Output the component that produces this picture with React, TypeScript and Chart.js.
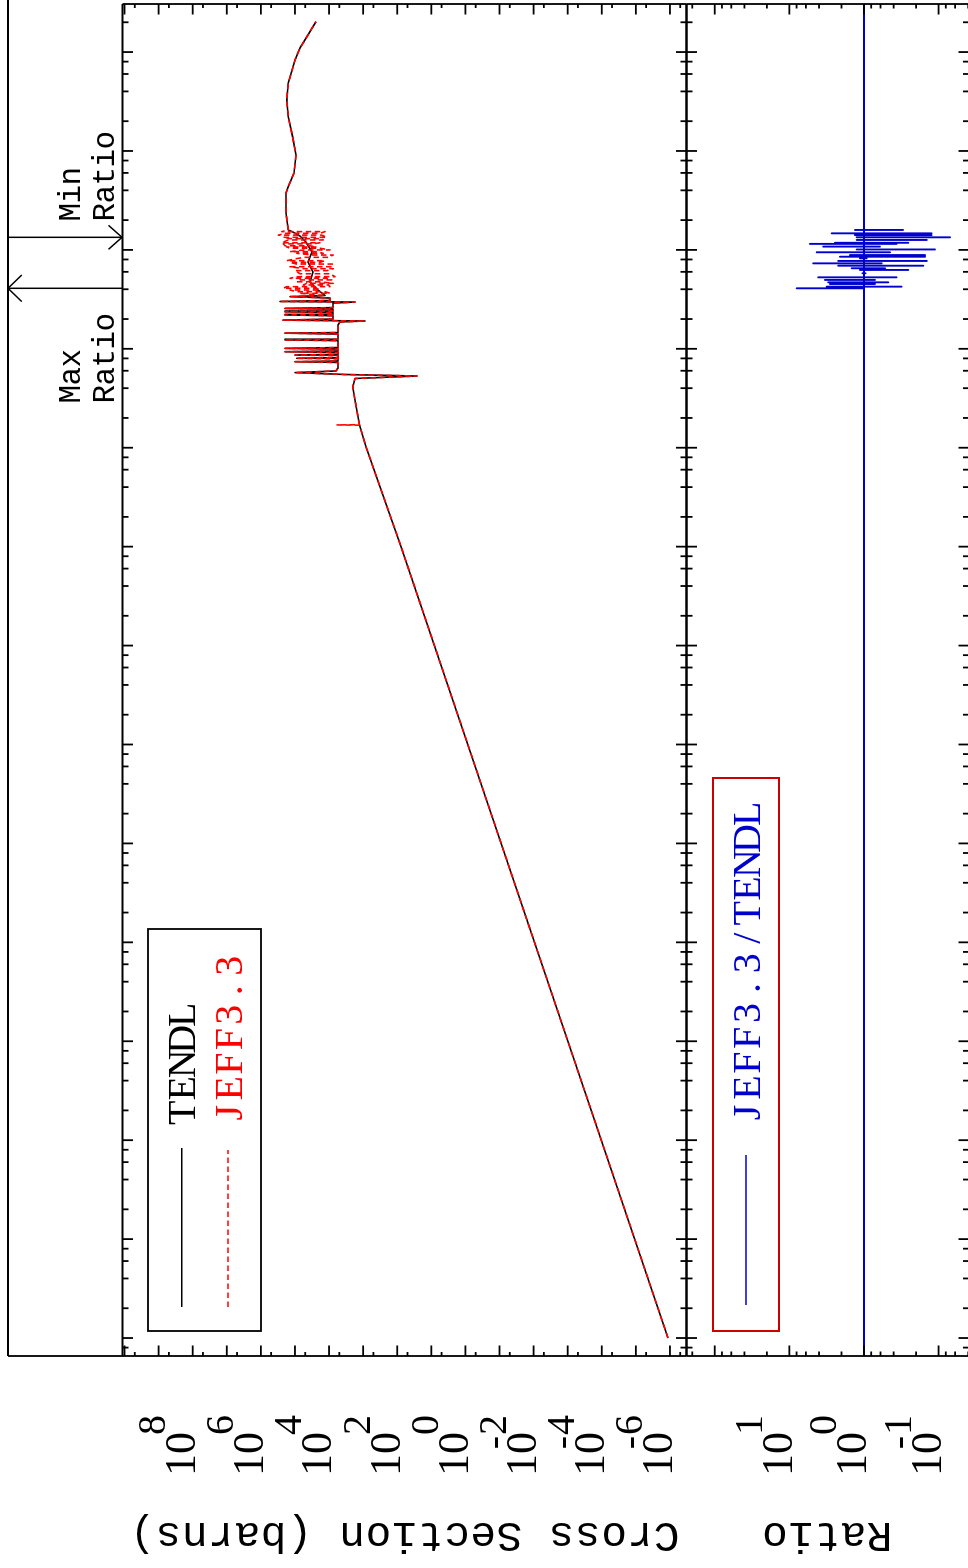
import React, { useEffect, useRef } from "react";
import { Chart, registerables } from "chart.js";

Chart.register(...registerables);

// ---------------- axis ranges ----------------
const energyMin = 6.58e-6; // eV
const energyMax = 3.06e8; // eV
const xsMin = 3.27e-7; // barns
const xsMax = 1.146e10; // barns
const ratioMin = 0.0391;
const ratioMax = 239;

// ---------------- tick definitions ----------------
const energyDecades = [-6, -5, -4, -3, -2, -1, 0, 1, 2, 3, 4, 5, 6, 7, 8];
const energyMinorFactors = [2, 4, 6, 8];
const xsDecades = [-7, -6, -5, -4, -3, -2, -1, 0, 1, 2, 3, 4, 5, 6, 7, 8, 9, 10];
const xsMinorFactors = [5];
const xsLabelExponents = [8, 6, 4, 2, 0, -2, -4, -6];
const ratioDecades = [-2, -1, 0, 1, 2];
const ratioMinorFactors = [2, 4, 6, 8];
const ratioLabelExponents = [1, 0, -1];

// ---------------- cross section data (eV, barns) ----------------
// smooth low-energy part, common to both libraries
const thermalE = [1e-5, 1e-3, 1e-1, 1e1, 1e3, 1.02e4];
const thermalXS = [1.14e-6, 1.03e-4, 9.42e-3, 0.851, 77.1, 824];

// approach to resonance region
const tendlBendE = [1.7e4, 3.03e4, 4.11e4];
const tendlBendXS = [1280, 1730, 2030];
const jeffBendE = [1.69e4, 1.7e4, 1.71e4, 3.03e4, 4.11e4];
const jeffBendXS = [1270, 5850, 1290, 1730, 2030];

// resolved resonances (common)
const resolvedE = [
  5.01e4, 5.31e4, 5.5e4, 5.75e4, 5.97e4, 6.4e4,
  7.28e4, 7.41e4, 7.53e4,
  7.89e4, 8.02e4, 8.15e4,
  8.51e4, 8.65e4, 8.79e4,
  9.2e4, 9.35e4, 9.51e4,
  9.95e4, 1.01e5, 1.03e5,
  1.21e5, 1.23e5, 1.25e5,
  1.41e5, 1.44e5, 1.46e5,
  1.74e5, 1.87e5, 1.91e5, 1.95e5, 2.0e5,
  2.16e5, 2.2e5, 2.23e5,
  2.33e5, 2.37e5, 2.41e5,
  2.52e5, 2.56e5, 2.61e5,
  2.9e5, 2.97e5, 3.01e5, 3.08e5,
  3.26e5, 3.37e5, 3.46e5,
];
const resolvedXS = [
  1730, 26.3, 3400, 9.98e4, 6250, 5470,
  5470, 9.98e4, 5470,
  5470, 8.89e4, 5470,
  5470, 9.98e4, 5470,
  5470, 1.96e5, 5470,
  5470, 1.96e5, 5470,
  5470, 1.96e5, 5470,
  5470, 1.96e5, 5470,
  5470, 4780, 883, 2.24e5, 7660,
  7660, 1.96e5, 7660,
  7660, 1.96e5, 7660,
  7660, 1.96e5, 7660,
  7660, 1730, 2.75e5, 9380,
  9380, 1.4e5, 1.32e4,
];

// unresolved region, TENDL (smooth average)
const tendlUrrE = [3.93e5, 4.73e5, 5.97e5, 7.55e5, 9.53e5, 1.2e6, 1.38e6, 1.52e6];
const tendlUrrXS = [2.11e4, 3.62e4, 2.96e4, 4.15e4, 3.16e4, 4.75e4, 7.11e4, 1.17e5];

// unresolved region, JEFF3.3 fluctuations: energy, upper and lower excursion
const jeffUrrE = [
  3.64e5, 3.78e5, 3.93e5, 4.09e5, 4.25e5, 4.42e5, 4.59e5, 4.76e5, 4.97e5, 5.16e5,
  5.36e5, 5.74e5, 6.17e5, 6.46e5, 6.76e5, 7.19e5, 7.48e5, 7.78e5, 8.41e5, 8.87e5,
  9.23e5, 9.59e5, 9.98e5, 1.04e6, 1.07e6, 1.1e6, 1.15e6, 1.18e6, 1.26e6, 1.3e6,
  1.34e6, 1.41e6, 1.47e6, 1.53e6,
];
const jeffUrrHigh = [
  7.11e4, 8.89e4, 1.4e5, 2.2e5, 1.75e5, 5.7e4, 4.53e4, 8.89e4, 7.11e4, 1.4e5,
  8.89e4, 7.11e4, 9.98e4, 5.7e4, 1.4e5, 8.89e4, 1.4e5, 1.75e5, 5.7e4, 2.9e4,
  8.89e4, 1.4e5, 5.7e4, 1.4e5, 1.75e5, 1.96e5, 2.2e5, 2.45e5, 1.57e5, 1.4e5,
  2.2e5, 3.08e5, 1.96e5, 2.45e5,
];
const jeffUrrLow = [
  9380, 1.32e4, 1.85e4, 2.31e4, 9380, 1.05e4, 7520, 1.85e4, 8370, 1.17e4,
  6700, 9380, 1.17e4, 7520, 8370, 7520, 1.85e4, 1.32e4, 1.05e4, 7520,
  1.48e4, 2.31e4, 9380, 1.85e4, 2.31e4, 3.62e4, 2.9e4, 1.85e4, 1.48e4, 1.64e4,
  1.17e4, 1.64e4, 1.85e4, 1.32e4,
];

// fast region, common
const fastE = [1.59e6, 2.36e6, 3.76e6, 4.36e6, 5.98e6, 9.1e6, 1.39e7, 2.22e7, 3.27e7, 4.86e7, 8.3e7, 1.1e8, 1.49e8, 2.03e8];
const fastXS = [1.57e5, 1.83e5, 1.83e5, 1.57e5, 1.07e5, 9.33e4, 1.17e5, 1.57e5, 1.75e5, 1.57e5, 9.98e4, 7.11e4, 4.15e4, 2.42e4];

// ---------------- ratio JEFF3.3 / TENDL ----------------
const ratioBaseE = [energyMin, energyMax];
const ratioBaseValue = 1;
const ratioSpikeE = [4.09e5, 4.25e5, 4.52e5, 4.7e5, 4.97e5, 5.28e5, 5.8e5, 6.27e5, 6.52e5, 6.92e5, 7.31e5, 7.73e5, 8.22e5, 8.53e5, 8.87e5, 9.46e5, 1.01e6, 1.08e6, 1.15e6, 1.18e6, 1.26e6, 1.34e6, 1.41e6, 1.47e6, 1.59e6];
const ratioSpikeHigh = [7.98, 3.16, 2.86, 3.01, 3.33, 4.1, 1.05, 1.13, 1.46, 2.21, 4.78, 2.21, 1.13, 2.1, 1.54, 4.31, 1.25, 3.51, 5.29, 2.45, 1.25, 1.25, 1.32, 2.71, 1.32];
const ratioSpikeLow = [1.0, 0.313, 0.713, 0.472, 0.713, 0.365, 0.95, 0.255, 0.523, 0.16, 0.579, 0.144, 0.92, 0.152, 0.152, 0.448, 0.112, 0.611, 0.365, 0.255, 0.144, 0.0703, 0.124, 0.124, 0.3];

// ---------------- layout (landscape coordinates, rotated afterwards) ----------------
const LAND_W = 1568;
const PLOT_L = 212;
const PLOT_R = 1564;
const FRAME_V = 8;
const XS_TOP = 122.5;
const SPLIT = 686.5;
const RATIO_BOTTOM = 969;
const A_H = 700;
const B_TOP = 676;
const B_H = 300;

const SERIF = '"Liberation Serif", "DejaVu Serif", serif';
const MONO = '"Liberation Mono", "DejaVu Sans Mono", monospace';
const RED = "#ff0000";
const BLUE = "#0000cd";
const BOX_RED = "#cc0000";

function pts(xs: number[], ys: number[]) {
  return xs.map((x, i) => ({ x, y: ys[i] }));
}

function fluctuation(es: number[], hi: number[], lo: number[]) {
  const out: { x: number; y: number }[] = [];
  es.forEach((e, i) => {
    if (i % 2 === 0) {
      out.push({ x: e, y: hi[i] });
      out.push({ x: e, y: lo[i] });
    } else {
      out.push({ x: e, y: lo[i] });
      out.push({ x: e, y: hi[i] });
    }
  });
  return out;
}

function buildRatio() {
  const out: { x: number; y: number }[] = [{ x: ratioBaseE[0], y: ratioBaseValue }];
  ratioSpikeE.forEach((e, i) => {
    out.push({ x: e, y: ratioBaseValue });
    out.push({ x: e, y: ratioSpikeHigh[i] });
    out.push({ x: e, y: ratioSpikeLow[i] });
    out.push({ x: e, y: ratioBaseValue });
  });
  out.push({ x: ratioBaseE[1], y: ratioBaseValue });
  return out;
}

function line(ctx: any, x1: number, y1: number, x2: number, y2: number) {
  ctx.beginPath();
  ctx.moveTo(x1, y1);
  ctx.lineTo(x2, y2);
  ctx.stroke();
}

function drawSpaced(ctx: any, text: string, x: number, y: number, pitch: number) {
  ctx.textAlign = "center";
  for (let i = 0; i < text.length; i++) ctx.fillText(text[i], x + pitch * (i + 0.5), y);
}

function drawRotatedTitle(ctx: any, text: string, cu: number, cv: number, pitch: number) {
  ctx.save();
  ctx.translate(cu, cv);
  ctx.rotate(-Math.PI / 2);
  ctx.font = `43px ${MONO}`;
  ctx.textBaseline = "middle";
  drawSpaced(ctx, text, (-pitch * text.length) / 2, 0, pitch);
  ctx.restore();
}

function drawPower(ctx: any, exp: number, u0: number, baseline: number) {
  ctx.textBaseline = "alphabetic";
  ctx.font = `44px ${SERIF}`;
  ctx.textAlign = "center";
  ctx.fillText("1", u0 + 11, baseline);
  ctx.fillText("0", u0 + 33, baseline);
  ctx.font = `40px ${SERIF}`;
  const su = u0 + 41;
  if (exp < 0) {
    ctx.textAlign = "right";
    ctx.fillText("-", su - 1, baseline - 30);
  }
  ctx.textAlign = "left";
  ctx.fillText(String(Math.abs(exp)), su, baseline - 30);
}

function energyTicks(ctx: any, xS: any, vEdge: number, dir: number) {
  for (const k of energyDecades) {
    for (const f of [1, ...energyMinorFactors]) {
      const u = xS.getPixelForValue(f * Math.pow(10, k));
      if (u < PLOT_L + 0.5 || u > PLOT_R - 0.5) continue;
      const len = f === 1 ? 10.5 : 6;
      line(ctx, u, vEdge, u, vEdge + dir * len);
    }
  }
}

function valueTicks(ctx: any, yS: any, decades: number[], minors: number[], vTop: number, vBot: number, minorLen: number) {
  for (const k of decades) {
    for (const f of [1, ...minors]) {
      const v = yS.getPixelForValue(f * Math.pow(10, k));
      if (v < vTop - 0.5 || v > vBot + 0.5) continue;
      const len = f === 1 ? 10.5 : minorLen;
      line(ctx, PLOT_L, v, PLOT_L + len, v);
      line(ctx, PLOT_R, v, PLOT_R - len, v);
    }
  }
}

const xsPanelPlugin = {
  id: "xsPanel",
  afterDraw(chart: any) {
    const ctx = chart.ctx;
    const xS = chart.scales.x;
    const yS = chart.scales.y;
    ctx.save();
    ctx.strokeStyle = "#000";
    ctx.fillStyle = "#000";
    ctx.lineWidth = 1.8;
    ctx.setLineDash([]);
    // outer frame
    line(ctx, PLOT_L, FRAME_V, LAND_W, FRAME_V);
    line(ctx, PLOT_L, FRAME_V, PLOT_L, SPLIT);
    // panel box
    line(ctx, PLOT_L, XS_TOP, PLOT_R, XS_TOP);
    line(ctx, PLOT_R, XS_TOP, PLOT_R, SPLIT);
    line(ctx, PLOT_L, SPLIT, PLOT_R, SPLIT);
    energyTicks(ctx, xS, XS_TOP, 1);
    energyTicks(ctx, xS, SPLIT, -1);
    valueTicks(ctx, yS, xsDecades, xsMinorFactors, XS_TOP, SPLIT, 4);
    // tick labels
    for (const e of xsLabelExponents) {
      drawPower(ctx, e, 92, yS.getPixelForValue(Math.pow(10, e)) + 2.4);
    }
    drawRotatedTitle(ctx, "Cross Section (barns)", 34, (XS_TOP + SPLIT) / 2, 26.2);

    // Max / Min ratio annotations
    let iMax = 0;
    let iMin = 0;
    ratioSpikeHigh.forEach((r, i) => { if (r > ratioSpikeHigh[iMax]) iMax = i; });
    ratioSpikeLow.forEach((r, i) => { if (r < ratioSpikeLow[iMin]) iMin = i; });
    const uMax = xS.getPixelForValue(ratioSpikeE[iMax]);
    const uMin = xS.getPixelForValue(ratioSpikeE[iMin]);
    ctx.lineWidth = 1.5;
    line(ctx, uMax, FRAME_V, uMax, XS_TOP);
    line(ctx, uMax, FRAME_V, uMax + 13.3, FRAME_V + 13.7);
    line(ctx, uMax, FRAME_V, uMax - 13.3, FRAME_V + 13.7);
    line(ctx, uMin, FRAME_V, uMin, XS_TOP);
    line(ctx, uMin, XS_TOP - 0.5, uMin + 12, XS_TOP - 14);
    line(ctx, uMin, XS_TOP - 0.5, uMin - 12, XS_TOP - 14);
    ctx.font = `31px ${MONO}`;
    ctx.textBaseline = "alphabetic";
    drawSpaced(ctx, "Max", uMax - 115, 80, 18);
    drawSpaced(ctx, "Ratio", uMax - 115, 114, 18);
    drawSpaced(ctx, "Min", uMin + 16, 80, 18);
    drawSpaced(ctx, "Ratio", uMin + 16, 114, 18);

    // legend
    ctx.lineWidth = 1.8;
    ctx.strokeStyle = "#000";
    ctx.strokeRect(237, 148, 402, 113);
    ctx.lineWidth = 1.6;
    line(ctx, 261, 181.7, 420, 181.7);
    ctx.strokeStyle = RED;
    ctx.setLineDash([5.5, 3.5]);
    line(ctx, 261, 228, 418, 228);
    ctx.setLineDash([]);
    ctx.font = `40px ${SERIF}`;
    ctx.textBaseline = "alphabetic";
    ctx.fillStyle = "#000";
    drawSpaced(ctx, "TENDL", 443, 195, 24.5);
    ctx.fillStyle = RED;
    drawSpaced(ctx, "JEFF3.3", 443, 241.5, 24.5);
    ctx.restore();
  },
};

const ratioPanelPlugin = {
  id: "ratioPanel",
  afterDraw(chart: any) {
    const ctx = chart.ctx;
    const xS = chart.scales.x;
    const yS = chart.scales.y;
    const top = SPLIT - B_TOP;
    const bottom = RATIO_BOTTOM - B_TOP;
    ctx.save();
    ctx.strokeStyle = "#000";
    ctx.fillStyle = "#000";
    ctx.lineWidth = 1.8;
    ctx.setLineDash([]);
    line(ctx, PLOT_L, top, PLOT_R, top);
    line(ctx, PLOT_L, top, PLOT_L, bottom);
    line(ctx, PLOT_R, top, PLOT_R, bottom);
    line(ctx, PLOT_L, bottom, PLOT_R, bottom);
    energyTicks(ctx, xS, top, 1);
    energyTicks(ctx, xS, bottom, -1);
    valueTicks(ctx, yS, ratioDecades, ratioMinorFactors, top, bottom, 4.5);
    for (const e of ratioLabelExponents) {
      drawPower(ctx, e, 92, yS.getPixelForValue(Math.pow(10, e)) + 2.4);
    }
    drawRotatedTitle(ctx, "Ratio", 34, (top + bottom - (RATIO_BOTTOM - 968)) / 2, 26.2);

    // legend
    ctx.lineWidth = 2;
    ctx.strokeStyle = BOX_RED;
    ctx.strokeRect(237, 713 - B_TOP, 553, 66);
    ctx.strokeStyle = BLUE;
    ctx.lineWidth = 1.6;
    line(ctx, 263, 746 - B_TOP, 413, 746 - B_TOP);
    ctx.fillStyle = BLUE;
    ctx.font = `40px ${SERIF}`;
    ctx.textBaseline = "alphabetic";
    drawSpaced(ctx, "JEFF3.3/TENDL", 443, 760 - B_TOP, 24.9);
    ctx.restore();
  },
};

function baseOptions(padding: any, yMin: number, yMax: number) {
  return {
    animation: false,
    responsive: false,
    devicePixelRatio: 1,
    events: [],
    layout: { padding },
    scales: {
      x: { type: "logarithmic", min: energyMin, max: energyMax, display: false, bounds: "data" },
      y: { type: "logarithmic", min: yMin, max: yMax, display: false, bounds: "data" },
    },
    plugins: { legend: { display: false }, tooltip: { enabled: false } },
  };
}

export default function App() {
  const aRef = useRef<HTMLCanvasElement>(null);
  const bRef = useRef<HTMLCanvasElement>(null);

  useEffect(() => {
    const tendl = [
      ...pts(thermalE, thermalXS),
      ...pts(tendlBendE, tendlBendXS),
      ...pts(resolvedE, resolvedXS),
      ...pts(tendlUrrE, tendlUrrXS),
      ...pts(fastE, fastXS),
    ];
    const jeff = [
      ...pts(thermalE, thermalXS),
      ...pts(jeffBendE, jeffBendXS),
      ...pts(resolvedE, resolvedXS),
      ...fluctuation(jeffUrrE, jeffUrrHigh, jeffUrrLow),
      ...pts(fastE, fastXS),
    ];
    const chartA = new Chart(aRef.current as HTMLCanvasElement, {
      type: "scatter",
      data: {
        datasets: [
          { label: "TENDL", data: tendl, showLine: true, borderColor: "#000", backgroundColor: "#000", borderWidth: 1.6, pointRadius: 0, borderJoinStyle: "round", order: 1 },
          { label: "JEFF3.3", data: jeff, showLine: true, borderColor: RED, backgroundColor: RED, borderWidth: 1.6, borderDash: [5.5, 3.5], pointRadius: 0, borderJoinStyle: "round", order: 0 },
        ],
      },
      options: baseOptions({ left: PLOT_L, right: LAND_W - PLOT_R, top: XS_TOP, bottom: A_H - SPLIT }, xsMin, xsMax) as any,
      plugins: [xsPanelPlugin],
    } as any);
    const chartB = new Chart(bRef.current as HTMLCanvasElement, {
      type: "scatter",
      data: {
        datasets: [
          { label: "JEFF3.3/TENDL", data: buildRatio(), showLine: true, borderColor: BLUE, backgroundColor: BLUE, borderWidth: 1.9, pointRadius: 0, borderJoinStyle: "round" },
        ],
      },
      options: baseOptions({ left: PLOT_L, right: LAND_W - PLOT_R, top: SPLIT - B_TOP, bottom: B_TOP + B_H - RATIO_BOTTOM }, ratioMin, ratioMax) as any,
      plugins: [ratioPanelPlugin],
    } as any);
    return () => {
      chartA.destroy();
      chartB.destroy();
    };
  }, []);

  return (
    <div style={{ position: "fixed", left: 0, top: 0, width: 968, height: 1568, overflow: "hidden", background: "#fff" }}>
      <div
        style={{
          position: "absolute",
          left: 0,
          top: 0,
          width: LAND_W,
          height: 968,
          transformOrigin: "0 0",
          transform: `translate(0px, ${LAND_W}px) rotate(-90deg)`,
        }}
      >
        <canvas ref={aRef} width={LAND_W} height={A_H} style={{ position: "absolute", left: 0, top: 0, width: LAND_W, height: A_H }} />
        <canvas ref={bRef} width={LAND_W} height={B_H} style={{ position: "absolute", left: 0, top: B_TOP, width: LAND_W, height: B_H }} />
      </div>
    </div>
  );
}
